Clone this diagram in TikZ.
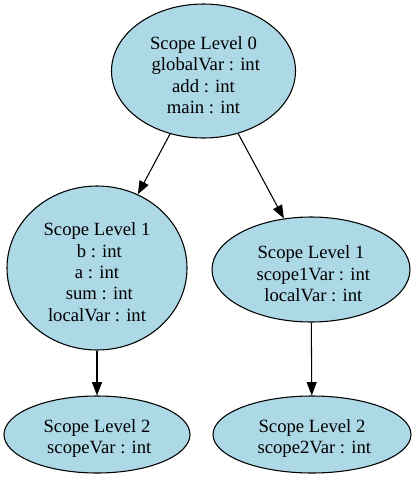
\documentclass[tikz,border=0pt]{standalone}
\usepackage{fontspec}
\setmainfont{Liberation Serif}
\usetikzlibrary{arrows.meta,shapes.geometric}
\definecolor{lb}{HTML}{ADD8E6}
\newcommand\firststrut{\rule{0pt}{16pt}}
\tikzset{
 scopenode/.style={ellipse, draw=black, fill=lb, inner sep=0pt, align=center,
   font=\fontsize{14}{16}\selectfont, line width=0.8pt},
 link/.style={-{Triangle[length=10pt,width=7.5pt]}, line width=0.8pt}
}
\begin{document}
\begin{tikzpicture}[x=0.75pt,y=-0.75pt]
\useasboundingbox (0,0) rectangle (416,479);
\node[scopenode, minimum width=138pt, minimum height=100.5pt] (n0) at (203.5,71)
  {\firststrut Scope Level 0\\~globalVar : int\\add : int\\main : int};
\node[scopenode, minimum width=135pt, minimum height=123pt] (n1) at (97,268)
  {\firststrut Scope Level 1\\~b : int\\a : int\\~sum : int\\localVar : int};
\node[scopenode, minimum width=148.5pt, minimum height=78.75pt] (n2) at (311,269.5)
  {\firststrut Scope Level 1\\~scope1Var : int\\~localVar : int};
\node[scopenode, minimum width=139.5pt, minimum height=57.75pt] (n3) at (97,434.5)
  {\firststrut Scope Level 2\\~scopeVar : int};
\node[scopenode, minimum width=148.5pt, minimum height=57.75pt] (n4) at (312,434.5)
  {\firststrut Scope Level 2\\~scope2Var : int};
\draw[link] (n0.-118) -- (n1.61);
\draw[link] (n0.-61) -- (n2.118);
\draw[link] (n1) -- (n3);
\draw[link] (n2) -- (n4);
\end{tikzpicture}
\end{document}
